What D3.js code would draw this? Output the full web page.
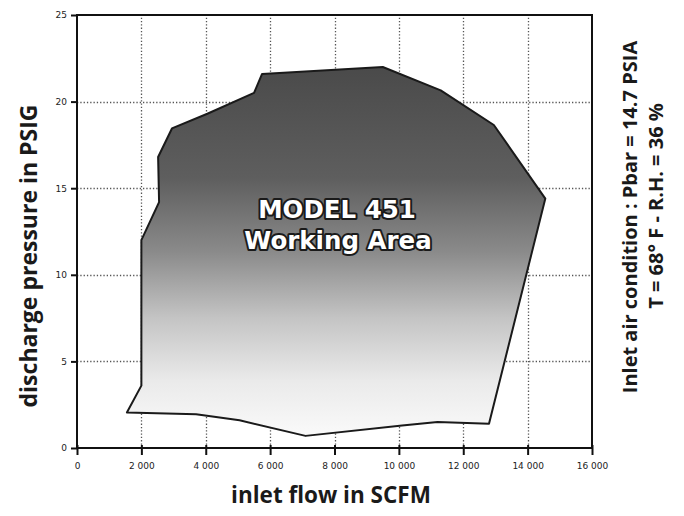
<!DOCTYPE html>
<html>
<head>
<meta charset="utf-8">
<script src="https://cdn.jsdelivr.net/npm/d3@7"></script>
<style>
  body { margin: 0; background: #fff; }
  svg { display: block; }
</style>
</head>
<body>
<script>
// tick values
var xTicks = [0, 2000, 4000, 6000, 8000, 10000, 12000, 14000, 16000];
var yTicks = [0, 5, 10, 15, 20, 25];

// working area outline (inlet flow SCFM, discharge pressure PSIG)
var flow     = [1550, 2000, 2000, 2550, 2520, 2950, 4050, 5500, 5750, 9500, 11300, 12950, 14550, 12800, 11200, 10100, 7100, 5050, 3700];
var pressure = [2.05, 3.6, 12.0, 14.2, 16.8, 18.45, 19.3, 20.5, 21.6, 22.0, 20.65, 18.65, 14.4, 1.4, 1.5, 1.3, 0.7, 1.6, 1.95];

var W = 684, H = 516;
var margin = {top: 15, right: 92, bottom: 68, left: 77};

var svg = d3.select("body").append("svg")
    .attr("width", W)
    .attr("height", H);

var x = d3.scaleLinear().domain([0, 16000]).range([margin.left, W - margin.right]);
var y = d3.scaleLinear().domain([0, 25]).range([H - margin.bottom, margin.top]);

var fmt = function(d) { return d3.format(",")(d).replace(",", " "); };

// gradient for the area
var defs = svg.append("defs");
var grad = defs.append("linearGradient")
    .attr("id", "areaGrad")
    .attr("gradientUnits", "userSpaceOnUse")
    .attr("x1", 0).attr("x2", 0)
    .attr("y1", y(22)).attr("y2", y(0.7));
[[0, "#4a4a4a"], [0.3, "#5e5e5e"], [0.5, "#8a8a8a"], [0.68, "#c4c4c4"], [0.85, "#eaeaea"], [1, "#fafafa"]]
    .forEach(function(s) {
        grad.append("stop").attr("offset", s[0]).attr("stop-color", s[1]);
    });

// dotted grid
var grid = svg.append("g");

grid.selectAll(".gx")
    .data(xTicks.slice(1, -1))
    .join("line")
    .attr("class", "gx")
    .attr("x1", d => Math.round(x(d)) + 0.5).attr("x2", d => Math.round(x(d)) + 0.5)
    .attr("y1", y(0)).attr("y2", y(25));

grid.selectAll(".gy")
    .data(yTicks.slice(1, -1))
    .join("line")
    .attr("class", "gy")
    .attr("x1", x(0)).attr("x2", x(16000))
    .attr("y1", d => Math.round(y(d)) + 0.5).attr("y2", d => Math.round(y(d)) + 0.5);

grid.selectAll("line")
    .style("stroke", "#555")
    .style("stroke-width", "1.3px")
    .style("stroke-dasharray", "1.3,2");

// working area polygon
var pts = flow.map(function(f, i) { return [x(f), y(pressure[i])]; });
svg.append("path")
    .attr("d", d3.line()(pts) + "Z")
    .attr("fill", "url(#areaGrad)")
    .attr("stroke", "#1a1a1a")
    .attr("stroke-width", 2)
    .attr("stroke-linejoin", "round");

// frame
svg.append("rect")
    .attr("x", x(0)).attr("y", y(25))
    .attr("width", x(16000) - x(0))
    .attr("height", y(0) - y(25))
    .attr("fill", "none")
    .attr("stroke", "#111")
    .attr("stroke-width", 2);

// axes
var xAxis = svg.append("g")
    .attr("transform", "translate(0," + y(0) + ")")
    .call(d3.axisBottom(x).tickValues(xTicks).tickFormat(d => d === 0 ? "0" : fmt(d)).tickSize(7).tickPadding(8));
var yAxis = svg.append("g")
    .attr("transform", "translate(" + x(0) + ",0)")
    .call(d3.axisLeft(y).tickValues(yTicks).tickSize(6).tickPadding(4));

[xAxis, yAxis].forEach(function(a) {
    a.select(".domain").remove();
    a.selectAll(".tick line").attr("stroke", "#111").attr("stroke-width", 2);
    a.selectAll(".tick text")
        .attr("fill", "#222")
        .style("font-family", "'DejaVu Sans', sans-serif")
        .style("font-size", "9px");
});
xAxis.selectAll(".tick line").attr("y1", -3);

// label inside the area
var label = svg.append("text")
    .attr("text-anchor", "middle")
    .style("font-family", "'DejaVu Sans', sans-serif")
    .style("font-weight", "bold")
    .style("font-size", "24.5px")
    .attr("fill", "#fff")
    .attr("stroke", "#1a1a1a")
    .attr("stroke-width", 4)
    .attr("stroke-linejoin", "round")
    .attr("paint-order", "stroke");
label.append("tspan").attr("x", 337).attr("y", 218).text("MODEL 451");
label.append("tspan").attr("x", 338).attr("y", 249).text("Working Area");

// axis titles
var titleFont = "'Open Sans', sans-serif";
svg.append("text")
    .attr("x", 331).attr("y", 503)
    .attr("text-anchor", "middle")
    .style("font-family", titleFont)
    .style("font-weight", 700)
    .style("font-size", "22.5px")
    .attr("fill", "#1a1a1a")
    .text("inlet flow in SCFM");

svg.append("text")
    .attr("transform", "translate(37,256) rotate(-90)")
    .attr("text-anchor", "middle")
    .style("font-family", titleFont)
    .style("font-weight", 700)
    .style("font-size", "23px")
    .attr("fill", "#1a1a1a")
    .text("discharge pressure in PSIG");

// test conditions
var cond = svg.append("g")
    .style("font-family", titleFont)
    .style("font-weight", 700)
    .style("font-size", "20px")
    .attr("fill", "#1a1a1a");
cond.append("text")
    .attr("transform", "translate(637,217) rotate(-90)")
    .attr("text-anchor", "middle")
    .text("Inlet air condition : Pbar = 14.7 PSIA");
cond.append("text")
    .attr("transform", "translate(663,206) rotate(-90)")
    .attr("text-anchor", "middle")
    .text("T = 68° F - R.H. = 36 %");
</script>
</body>
</html>
